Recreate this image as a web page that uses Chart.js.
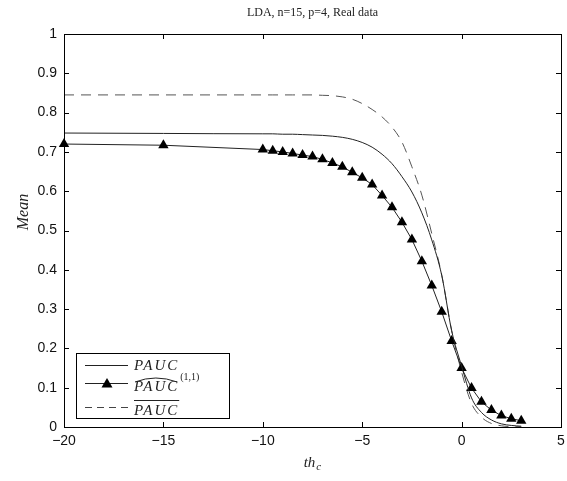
<!DOCTYPE html>
<html lang="en">
<head>
<meta charset="UTF-8">
<title>LDA, n=15, p=4, Real data</title>
<script src="https://cdn.jsdelivr.net/npm/chart.js"></script>
<style>
  body{margin:0; background:#fff;}
  #wrap{width:567px; height:481px; position:relative;}
</style>
</head>
<body>
<div id="wrap"><canvas id="myChart"></canvas></div>
<script>
// th_c values (x) shared by all three series
const th_c = [-20, -15, -10, -9.5, -9, -8.5, -8, -7.5, -7, -6.5, -6, -5.5, -5, -4.5, -4,
              -3.5, -3, -2.5, -2, -1.5, -1, -0.5, 0, 0.5, 1, 1.5, 2, 2.5, 3];
// PAUC (solid)
const pauc = [0.748, 0.747, 0.746, 0.746, 0.745, 0.745, 0.744, 0.743, 0.742, 0.740, 0.737, 0.732, 0.724, 0.712, 0.694,
              0.670, 0.637, 0.598, 0.545, 0.476, 0.386, 0.245, 0.155, 0.074, 0.037, 0.018, 0.008, 0.004, 0.002];
// PAUC hat (1,1) (triangles)
const pauc_hat = [0.720, 0.717, 0.706, 0.703, 0.700, 0.696, 0.692, 0.688, 0.681, 0.672, 0.662, 0.648, 0.634, 0.617, 0.589,
                  0.559, 0.521, 0.477, 0.422, 0.360, 0.293, 0.219, 0.150, 0.099, 0.064, 0.043, 0.029, 0.021, 0.016];
// PAUC bar (dashed)
const pauc_bar = [0.845, 0.845, 0.845, 0.845, 0.845, 0.845, 0.845, 0.845, 0.844, 0.843, 0.840, 0.834, 0.823, 0.808, 0.789,
                  0.763, 0.725, 0.662, 0.590, 0.492, 0.387, 0.245, 0.140, 0.060, 0.025, 0.009, 0.003, 0.001, 0.0005];

const x_ticks = [-20, -15, -10, -5, 0, 5];
const title_text = 'LDA, n=15, p=4, Real data';

function pts(ys){ return th_c.map((x, i) => ({x: x, y: ys[i]})); }

const serif = '"Liberation Serif", "DejaVu Serif", serif';
const sans = '"Liberation Sans", Arial, sans-serif';

// frame, inward ticks, title, axis labels and legend (matlab look)
const matlabPlugin = {
  id: 'matlab',
  afterDraw(chart){
    const ctx = chart.ctx;
    const a = chart.chartArea;
    const sx = chart.scales.x, sy = chart.scales.y;
    ctx.save();
    ctx.strokeStyle = '#000';
    ctx.lineWidth = 1;
    ctx.strokeRect(Math.round(a.left) + 0.5, Math.round(a.top) + 0.5,
                   Math.round(a.right - a.left), Math.round(a.bottom - a.top));
    ctx.beginPath();
    sx.ticks.forEach(t => {
      const px = Math.round(sx.getPixelForValue(t.value)) + 0.5;
      ctx.moveTo(px, a.bottom); ctx.lineTo(px, a.bottom - 5);
      ctx.moveTo(px, a.top); ctx.lineTo(px, a.top + 5);
    });
    sy.ticks.forEach(t => {
      const py = Math.round(sy.getPixelForValue(t.value)) + 0.5;
      ctx.moveTo(a.left, py); ctx.lineTo(a.left + 5, py);
      ctx.moveTo(a.right, py); ctx.lineTo(a.right - 5, py);
    });
    ctx.stroke();

    // title
    ctx.fillStyle = '#222';
    ctx.font = '12px ' + serif;
    ctx.textAlign = 'center';
    ctx.textBaseline = 'middle';
    ctx.fillText(title_text, (a.left + a.right) / 2, 13);

    // x label th_c
    ctx.font = 'italic 15px ' + serif;
    ctx.textAlign = 'left';
    ctx.textBaseline = 'alphabetic';
    const cx = (a.left + a.right) / 2;
    const wth = ctx.measureText('th').width;
    ctx.fillText('th', cx - wth / 2 - 3, 467);
    ctx.font = 'italic 11px ' + serif;
    ctx.fillText('c', cx + wth / 2 - 2, 470);

    // y label Mean
    ctx.save();
    ctx.translate(24, 212);
    ctx.rotate(-Math.PI / 2);
    ctx.font = 'italic 16px ' + serif;
    ctx.textAlign = 'center';
    ctx.textBaseline = 'middle';
    ctx.fillText('Mean', 0, 0);
    ctx.restore();

    // legend
    const lx = 76, ly = 353, lw = 153, lh = 65;
    ctx.fillStyle = '#fff';
    ctx.fillRect(lx, ly, lw, lh);
    ctx.strokeStyle = '#000';
    ctx.strokeRect(lx + 0.5, ly + 0.5, lw, lh);
    const l0 = 85, l1 = 128, tx = 134;
    ctx.strokeStyle = '#222';
    ctx.beginPath(); ctx.moveTo(l0, 365.5); ctx.lineTo(l1, 365.5); ctx.stroke();
    ctx.beginPath(); ctx.moveTo(l0, 383.5); ctx.lineTo(l1, 383.5); ctx.stroke();
    ctx.fillStyle = '#000';
    ctx.beginPath();
    ctx.moveTo(107, 378); ctx.lineTo(112.5, 387.5); ctx.lineTo(101.5, 387.5); ctx.closePath(); ctx.fill();
    ctx.setLineDash([7, 5]);
    ctx.strokeStyle = '#444';
    ctx.beginPath(); ctx.moveTo(l0, 407.5); ctx.lineTo(l1, 407.5); ctx.stroke();
    ctx.setLineDash([]);

    ctx.fillStyle = '#222';
    ctx.font = 'italic 15px ' + serif;
    ctx.letterSpacing = '2px';
    ctx.textAlign = 'left';
    ctx.textBaseline = 'alphabetic';
    ctx.fillText('PAUC', tx, 370);
    ctx.fillText('PAUC', tx, 391);
    ctx.fillText('PAUC', tx, 415);
    const w = ctx.measureText('PAUC').width - 2;
    ctx.letterSpacing = '0px';
    ctx.strokeStyle = '#222';
    // hat
    ctx.beginPath();
    ctx.moveTo(tx + 1, 382); ctx.quadraticCurveTo(tx + w / 2, 374, tx + w, 382);
    ctx.stroke();
    ctx.font = '10px ' + serif;
    ctx.fillText('(1,1)', tx + w + 3, 380);
    // overline
    ctx.beginPath(); ctx.moveTo(tx, 400.5); ctx.lineTo(tx + w + 2, 400.5); ctx.stroke();
    ctx.restore();
  }
};

const ctx = document.getElementById('myChart');
const configs = {
  type: 'line',
  data: {
    datasets: [
      {label: 'PAUC', data: pts(pauc), borderColor: '#222', borderWidth: 1,
       pointRadius: 0, cubicInterpolationMode: 'monotone', fill: false},
      {label: 'PAUC hat (1,1)', data: pts(pauc_hat), borderColor: '#222', borderWidth: 1,
       pointStyle: 'triangle', pointRadius: 6, pointBackgroundColor: '#000', pointBorderColor: '#000',
       pointBorderWidth: 0, tension: 0, fill: false, clip: false},
      {label: 'PAUC bar', data: pts(pauc_bar), borderColor: '#555', borderWidth: 1, borderDash: [10, 7],
       pointRadius: 0, cubicInterpolationMode: 'monotone', fill: false}
    ]
  },
  options: {
    responsive: false,
    animation: false,
    devicePixelRatio: 1,
    layout: {padding: {top: 34, right: 5, left: 0, bottom: 0}},
    plugins: {legend: {display: false}, title: {display: false}, tooltip: {enabled: false}},
    scales: {
      x: {
        type: 'linear', min: -20, max: 5,
        afterBuildTicks: s => { s.ticks = x_ticks.map(v => ({value: v})); },
        ticks: {font: {family: sans, size: 14}, color: '#111', padding: 6,
                callback: v => v < 0 ? '\u2212' + Math.abs(v) : String(v)},
        grid: {display: false, drawTicks: false},
        border: {display: false},
        afterFit: s => { s.height = 54; s.paddingLeft = 0; s.paddingRight = 0; }
      },
      y: {
        min: 0, max: 1,
        ticks: {stepSize: 0.1, font: {family: sans, size: 14}, color: '#111', padding: 7,
                callback: v => String(Number(v.toFixed(1)))},
        grid: {display: false, drawTicks: false},
        border: {display: false},
        afterFit: s => { s.width = 64; s.paddingTop = 0; s.paddingBottom = 0; }
      }
    }
  },
  plugins: [matlabPlugin]
};
ctx.width = 567; ctx.height = 481;
const myChart = new Chart(ctx, configs);
</script>
</body>
</html>
